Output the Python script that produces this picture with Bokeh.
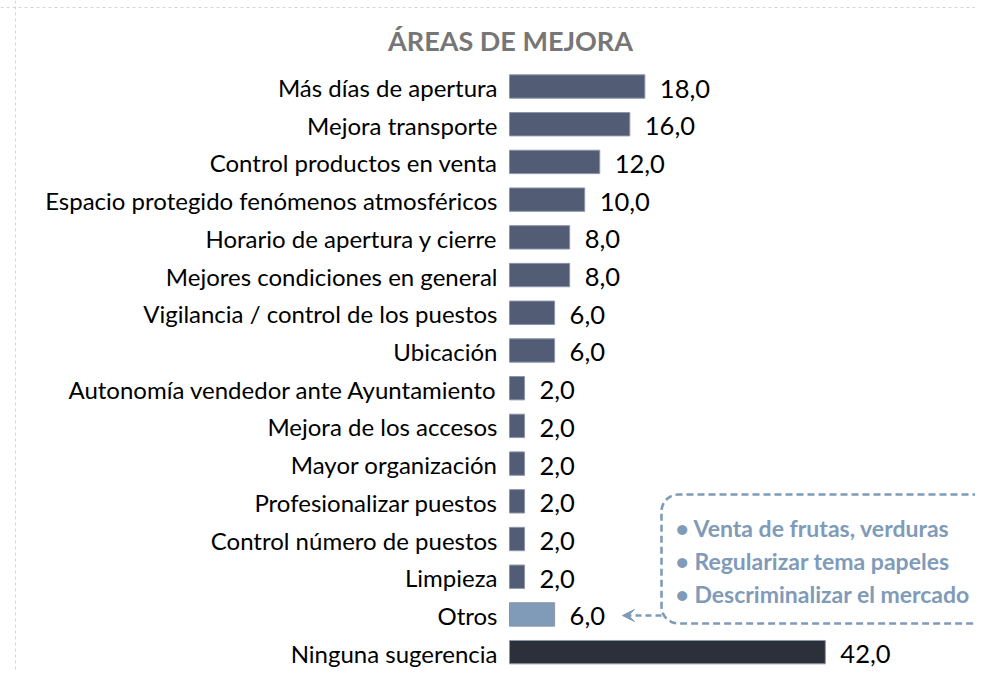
import numpy as np
from bokeh.plotting import figure
from bokeh.models import Range1d, Arrow, VeeHead, Span, Label, ColumnDataSource
from bokeh.core.properties import value
from bokeh.embed import file_html
from bokeh.resources import INLINE

title_text = "ÁREAS DE MEJORA"
categories = [
    "Más días de apertura",
    "Mejora transporte",
    "Control productos en venta",
    "Espacio protegido fenómenos atmosféricos",
    "Horario de apertura y cierre",
    "Mejores condiciones en general",
    "Vigilancia / control de los puestos",
    "Ubicación",
    "Autonomía vendedor ante Ayuntamiento",
    "Mejora de los accesos",
    "Mayor organización",
    "Profesionalizar puestos",
    "Control número de puestos",
    "Limpieza",
    "Otros",
    "Ninguna sugerencia",
]
values = [18, 16, 12, 10, 8, 8, 6, 6, 2, 2, 2, 2, 2, 2, 6, 42]
otros_detail = [
    "• Venta de frutas, verduras",
    "• Regularizar tema papeles",
    "• Descriminalizar el mercado",
]

BAR = "#525d75"
OTROS = "#7f9bb8"
NINGUNA = "#2c303b"
colors = [OTROS if c == "Otros" else NINGUNA if c == "Ninguna sugerencia" else BAR
          for c in categories]

W, H = 975, 670
PX_X = 7.52          # pixels per unit on x
ROW = 37.71          # pixels per row
X0 = 509             # canvas x of value 0
Y0 = 86              # canvas y of first row centre


def dx(px):
    return (px - X0) / PX_X


def dy(py):
    return (py - Y0) / ROW


p = figure(width=W, height=H, output_backend="svg", toolbar_location=None,
           x_range=Range1d(dx(0), dx(W)),
           y_range=Range1d(dy(H), dy(0)),
           min_border=0, x_axis_location=None, y_axis_location=None)
p.grid.visible = False
p.outline_line_color = None
p.background_fill_color = "white"
p.border_fill_color = "white"

idx = list(range(len(categories)))
src = ColumnDataSource(dict(
    y=idx, v=values, cat=categories, color=colors,
    lab=[f"{v:.1f}".replace(".", ",") for v in values],
))

p.hbar(y="y", left=0, right="v", height=0.62, source=src,
       fill_color="color", line_color="#8d96a8", line_width=1)

p.text(x="v", y="y", text="lab", source=src, x_offset=15, y_offset=2,
       text_baseline="middle", text_align="left",
       text_font=value("Lato"), text_font_size="25.5px", text_color="#000000")

p.text(x=0, y="y", text="cat", source=src, x_offset=-12, y_offset=1,
       text_baseline="middle", text_align="right",
       text_font=value("Lato"), text_font_size="24px", text_color="#000000")

# Title
p.add_layout(Label(x=dx(510), y=dy(40), text=title_text, text_align="center",
                   text_baseline="middle", text_font="Lato", text_font_style="bold",
                   text_font_size="27px", text_color="#767676"))

# Outer dotted border (top and left)
p.add_layout(Span(location=dx(15), dimension="height",
                  line_color="#d4d4d4", line_dash="3 3", line_width=1))
p.add_layout(Span(location=dy(7), dimension="width",
                  line_color="#d4d4d4", line_dash="3 3", line_width=1))

# Callout box (open on the right, rounded on the left)
L, T, B, R = 661, 494, 623, 1100
rad = 17
a1 = np.linspace(np.pi / 2, np.pi, 12)
a2 = np.linspace(np.pi, 1.5 * np.pi, 12)
bx = ([R] + list(L + rad + rad * np.cos(a1)) + list(L + rad + rad * np.cos(a2)) + [R])
by = ([T] + list(T + rad - rad * np.sin(a1)) + list(B - rad - rad * np.sin(a2)) + [B])
p.line(x=[dx(v) for v in bx], y=[dy(v) for v in by], line_color=OTROS,
       line_width=2.6, line_dash="7 4")

p.text(x=[dx(675)] * 3, y=[dy(527), dy(560), dy(593)], text=otros_detail,
       text_baseline="middle", text_align="left",
       text_font=value("Lato"), text_font_style="bold",
       text_font_size="23px", text_color=OTROS)

# Arrow to "Otros"
p.add_layout(Arrow(x_start=dx(661), y_start=dy(615),
                   x_end=dx(622), y_end=dy(615),
                   line_color=OTROS, line_width=2.6, line_dash="6 4",
                   end=VeeHead(size=12, fill_color=OTROS, line_color=OTROS)))

open("out.html", "w").write(file_html(p, INLINE))
